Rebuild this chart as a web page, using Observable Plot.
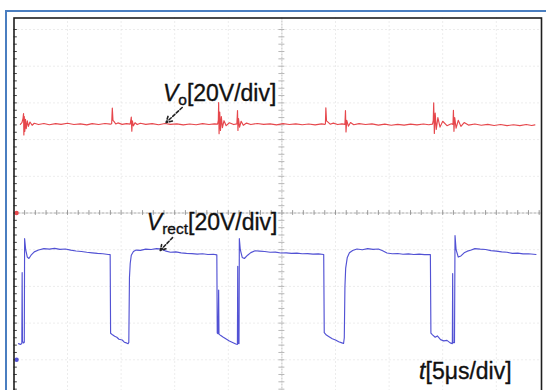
<!DOCTYPE html>
<html><head><meta charset="utf-8">
<script src="https://cdn.jsdelivr.net/npm/d3@7"></script>
<script src="https://cdn.jsdelivr.net/npm/@observablehq/plot@0.6"></script>
<style>
html,body{margin:0;padding:0;background:#fff;}
#wrap{position:relative;width:546px;height:390px;overflow:hidden;background:#fff;}
#border{position:absolute;left:5px;top:10px;width:560px;height:400px;border-top:2px solid #4a7ec0;border-left:2px solid #4a7ec0;pointer-events:none;}
</style></head><body><div id="wrap"><div id="border"></div></div>
<script>
// Channels: ground offset in ch1 volts (20 V/div), trace colour
const channels = [
  {name: "Vo", ground: 0, color: "#e6474c"},
  {name: "Vrect", ground: -80, color: "#5252d4"}
];
// Vo samples [time µs, volts]
const voSamples = [[0.6,48.3],[0.75,49.2],[0.85,51.5],[0.9,54.2],[0.93,42.5],[0.97,52.5],[1.02,44.5],[1.08,51],[1.15,46],[1.25,50.2],[1.35,47.2],[1.5,49.6],[1.7,47.8],[1.9,48.9],[2.3,48.2],[2.8,48.8],[3.3,48.1],[3.9,48.7],[4.4,48.3],[5.0,48.9],[5.6,48.2],[6.2,48.6],[6.8,48.0],[7.3,48.7],[7.9,48.2],[8.5,48.8],[9.0,48.4],[9.12,48.6],[9.18,57.2],[9.24,50.5],[9.35,49.8],[9.5,48.5],[9.7,49.1],[10.1,48.3],[10.5,48.7],[10.85,48.4],[10.95,52.3],[11.0,44.6],[11.05,50.2],[11.15,47.5],[11.3,49.2],[11.5,48.2],[11.8,48.9],[12.3,48.3],[12.9,48.7],[13.5,48.1],[14.1,48.8],[14.6,48.3],[15.2,48.6],[15.8,48.0],[16.4,48.5],[17.0,48.1],[17.6,48.7],[18.2,48.2],[18.7,48.6],[19.0,48.4],[19.07,50.5],[19.1,60.2],[19.14,43.2],[19.2,55],[19.27,45],[19.35,52.5],[19.45,46.5],[19.6,50.3],[19.8,47.6],[20.1,49.2],[20.5,48.2],[20.8,48.6],[20.86,55.8],[20.9,45],[20.95,51.5],[21.05,46.8],[21.2,50],[21.4,47.8],[21.7,49],[22.1,48.2],[22.7,48.8],[23.3,48.3],[23.9,48.6],[24.5,48.0],[25.1,48.7],[25.7,48.2],[26.3,48.6],[26.9,48.1],[27.5,48.5],[28.1,48.0],[28.7,48.6],[29.0,48.3],[29.06,48.5],[29.1,57.3],[29.16,50.2],[29.3,49.5],[29.5,48.4],[29.8,49],[30.2,48.2],[30.6,48.6],[30.88,48.3],[30.93,55.8],[30.98,44.2],[31.05,50.5],[31.2,47.3],[31.4,49.3],[31.7,48.1],[32.2,48.7],[32.8,48.2],[33.4,48.6],[34.0,47.9],[34.6,48.4],[35.2,47.8],[35.8,48.3],[36.4,47.9],[37.0,48.4],[37.6,48.0],[38.2,48.5],[38.7,48.1],[39.05,48.4],[39.12,50.5],[39.16,60.0],[39.22,43.3],[39.3,54.5],[39.4,45.5],[39.55,52],[39.75,46.8],[40.0,50],[40.4,47.6],[40.8,48.6],[40.96,48.3],[41.0,56],[41.05,44.5],[41.12,52],[41.25,46.2],[41.45,50.5],[41.7,47.2],[42.0,49.3],[42.4,47.9],[43.0,48.5],[43.6,47.8],[44.2,48.3],[44.8,47.7],[45.4,48.2],[46.0,47.6],[46.6,48.1],[47.2,47.6],[47.8,48.2],[48.3,47.7],[48.6,48.0]];
// Vrect samples [time µs, volts]
const vrectSamples = [[0.43,8.8],[0.6,8.4],[0.74,8.9],[0.77,47.5],[0.8,10],[0.9,9.2],[0.97,9.5],[1.0,66],[1.1,60],[1.25,56],[1.4,55.2],[1.6,57],[1.9,58.8],[2.3,59.8],[2.8,60.6],[3.3,60.3],[3.8,60.7],[4.3,60.2],[4.8,60.4],[5.3,59.8],[5.8,59.3],[6.3,59.0],[6.8,58.6],[7.3,58.3],[7.8,58.0],[8.3,57.8],[8.8,57.4],[8.98,57.3],[9.02,14.5],[9.2,13.6],[9.4,12.8],[9.6,12.3],[9.8,11.2],[10.1,10.8],[10.3,9.6],[10.5,9.2],[10.65,8.8],[10.72,9.5],[10.78,45],[10.85,52.5],[10.95,57],[11.15,59],[11.4,59.8],[11.8,59.6],[12.3,60.3],[12.8,60.1],[13.3,60.6],[13.8,60.3],[14.2,59.2],[14.6,58.6],[15.1,58.8],[15.6,58.3],[16.1,58.0],[16.6,57.9],[17.1,57.6],[17.6,57.8],[18.1,57.4],[18.6,57.5],[18.93,57.2],[18.97,14.6],[19.05,14.2],[19.1,38],[19.13,14],[19.3,13.2],[19.5,12.4],[19.8,11.3],[20.1,10.2],[20.4,9.4],[20.7,8.6],[20.85,8.4],[20.88,51],[20.91,9],[21.0,8.8],[21.03,66],[21.12,60],[21.3,55.8],[21.5,55.2],[21.8,57],[22.1,58.4],[22.5,59.4],[22.9,59.2],[23.4,59],[23.9,58.6],[24.4,58.7],[24.9,58.2],[25.4,58.3],[25.9,58.0],[26.4,58.1],[26.9,57.8],[27.4,57.9],[27.9,57.6],[28.4,57.7],[28.9,57.4],[28.95,14.8],[29.15,13.5],[29.4,12.6],[29.7,11.5],[30.0,10.8],[30.3,9.8],[30.6,9.2],[30.75,8.9],[30.82,12],[30.88,40],[30.95,50],[31.1,55.8],[31.3,58.3],[31.6,59.6],[32.0,60.4],[32.5,60.0],[33.0,60.6],[33.5,60.2],[34.0,60.4],[34.4,59.4],[34.8,58.2],[35.3,57.8],[35.8,57.9],[36.3,57.5],[36.8,57.7],[37.3,57.4],[37.8,57.6],[38.3,57.3],[38.85,57.4],[38.9,14.5],[39.05,13.6],[39.3,12.3],[39.5,13],[39.8,11],[40.1,10.3],[40.4,10.6],[40.7,9.2],[40.9,8.8],[40.93,47],[40.96,9.5],[41.1,9.3],[41.15,67.7],[41.25,60],[41.45,56],[41.7,56.6],[42.0,58.3],[42.3,59.2],[42.6,59.7],[43.0,60.6],[43.5,60.3],[44.0,60.1],[44.5,59.5],[45.0,59.2],[45.5,58.8],[46.0,58.6],[46.5,58.0],[47.0,58.1],[47.5,57.7],[48.0,57.8],[48.7,57.4]];
// Screen graticule (5 µs/div, 20 V/div)
const divTimes = [5, 10, 15, 20, 30, 35, 40, 45];
const divVolts = [-80, -60, -40, -20, 20, 40, 60, 80, 100];
const minorTimes = d3.range(1, 50, 1);
const minorVolts = d3.range(-96, 101, 4);
// Annotations: italic symbol, subscript, scale text; anchor in time/volts
const labels = [
  {sym: "V", sub: "o", scale: "[20V/div]", t: 13.9, v: 61.3},
  {sym: "V", sub: "rect", scale: "[20V/div]", t: 12.4, v: -9.5},
  {sym: "t", sub: "", scale: "[5μs/div]", t: 37.8, v: -90.5}
];
const pointers = [
  {t1: 15.7, v1: 57.5, t2: 14.2, v2: 49.3},
  {t1: 14.8, v1: -13.4, t2: 13.65, v2: -20.4}
];

const rows = ch => (ch.name === "Vo" ? voSamples : vrectSamples).map(([t, v]) => ({t, v, y: v + ch.ground}));

const chart = Plot.plot({
  width: 546, height: 390,
  marginLeft: 13.5, marginRight: 5, marginTop: 17.5, marginBottom: -20,
  x: {domain: [0, 50], range: [13.4, 549.4], axis: null},
  y: {domain: [-100, 100], range: [212.5 + 5 * 36.7, 212.5 - 5 * 36.7], axis: null},
  style: {background: "transparent", fontFamily: "'Liberation Sans', Arial, sans-serif"},
  marks: [
    Plot.ruleX(divTimes, {stroke: "#d9d9d9", strokeDasharray: "1,3", strokeWidth: 1}),
    Plot.ruleY(divVolts, {stroke: "#d9d9d9", strokeDasharray: "1,3", strokeWidth: 1}),
    Plot.ruleX([25], {stroke: "#bdbdbd", strokeDasharray: "2,1", strokeWidth: 1}),
    Plot.ruleY([0], {stroke: "#a8a8a8", strokeDasharray: "3,1", strokeWidth: 1}),
    Plot.ruleX(minorTimes, {x: d => d, y1: -1.3, y2: 1.3, stroke: "#9a9a9a"}),
    Plot.ruleY(minorVolts, {y: d => d, x1: 24.72, x2: 25.28, stroke: "#b8b8b8"}),
    Plot.ruleY(minorVolts, {y: d => d, x1: 0.01, x2: 0.32, stroke: "#444"}),
    ...channels.map(ch => Plot.line(rows(ch), {x: "t", y: "y", stroke: ch.color, strokeWidth: 1.15, strokeLinejoin: "round"})),
    Plot.dot(channels, {x: 0.25, y: "ground", r: 2.2, fill: "color", stroke: null}),
    Plot.arrow(pointers, {x1: "t1", y1: "v1", x2: "t2", y2: "v2", stroke: "#222", strokeWidth: 1.6, strokeDasharray: "3,2", headLength: 6}),
    Plot.text(labels, {x: "t", y: "v", text: d => d.sym + "|" + d.sub + "|" + d.scale, textAnchor: "start", lineAnchor: "bottom", fontSize: 23, fill: "#111", stroke: "#111", strokeWidth: 0.35, fontFamily: "'Liberation Sans', Arial, sans-serif"}),
    Plot.frame({stroke: "#1e1e1e", strokeWidth: 1.6})
  ]
});

// turn the annotation strings into italic symbol + subscript + scale
const NS = "http://www.w3.org/2000/svg";
chart.querySelectorAll("text").forEach(el => {
  const s = el.textContent;
  if (!s.includes("|")) return;
  const [a, b, c] = s.split("|");
  el.textContent = "";
  const t1 = document.createElementNS(NS, "tspan");
  t1.setAttribute("font-style", "italic"); t1.textContent = a; el.appendChild(t1);
  if (b) {
    const t2 = document.createElementNS(NS, "tspan");
    t2.setAttribute("font-size", "15.5"); t2.setAttribute("dy", "4"); t2.textContent = b; el.appendChild(t2);
  }
  const t3 = document.createElementNS(NS, "tspan");
  if (b) t3.setAttribute("dy", "-4");
  t3.textContent = c; el.appendChild(t3);
});
chart.style.position = "absolute"; chart.style.left = "0"; chart.style.top = "0";
document.getElementById("wrap").insertBefore(chart, document.getElementById("border"));
</script>
</body></html>
